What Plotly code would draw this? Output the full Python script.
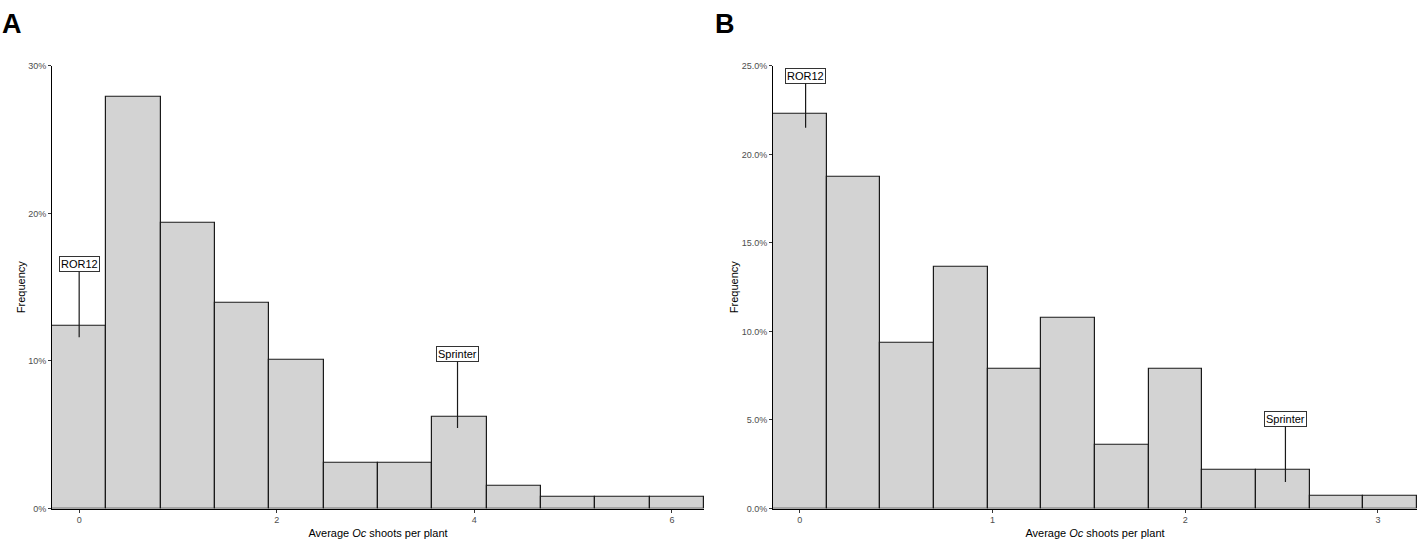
import plotly.graph_objects as go

# ---- Data ----
# Panel A
a_binwidth = 0.55
a_centers = [0.0, 0.55, 1.10, 1.65, 2.20, 2.75, 3.30, 3.85, 4.40, 4.95, 5.50, 6.05]
a_freq = [12.40, 27.91, 19.38, 13.95, 10.08, 3.10, 3.10, 6.20, 1.55, 0.78, 0.78, 0.78]
a_ticks = [0, 2, 4, 6]
a_yticks = [0, 10, 20, 30]
a_labels = ["ROR12", "Sprinter"]
a_label_x = [0.0, 3.83]
a_label_y = [11.6, 5.45]

# Panel B
b_binwidth = 0.2785
b_centers = [0.0, 0.2785, 0.557, 0.8355, 1.114, 1.3925, 1.671, 1.9495, 2.228, 2.5065, 2.785, 3.0635]
b_freq = [22.30, 18.71, 9.35, 13.67, 7.91, 10.79, 3.60, 7.91, 2.16, 2.16, 0.72, 0.72]
b_ticks = [0, 1, 2, 3]
b_yticks = [0, 5, 10, 15, 20, 25]
b_labels = ["ROR12", "Sprinter"]
b_label_x = [0.03, 2.52]
b_label_y = [21.5, 1.5]

W, H = 1418, 542
FONT = "Liberation Sans, Arial, sans-serif"

fig = go.Figure()

bar_style = dict(marker=dict(color="#D3D3D3", line=dict(color="#1A1A1A", width=1.2)),
                 showlegend=False, hoverinfo="x+y")

fig.add_trace(go.Bar(x=a_centers, y=a_freq, width=[a_binwidth] * len(a_centers),
                     xaxis="x", yaxis="y", **bar_style))
fig.add_trace(go.Bar(x=b_centers, y=b_freq, width=[b_binwidth] * len(b_centers),
                     xaxis="x2", yaxis="y2", **bar_style))

y_top = 1 - 62 / H
y_bot = 1 - 513 / H

common_x = dict(showline=True, linecolor="black", linewidth=1, ticks="outside",
                ticklen=3, tickcolor="#333333", tickwidth=1,
                tickfont=dict(size=9, color="#4D4D4D", family=FONT),
                showgrid=False, zeroline=False, fixedrange=True,
                title=dict(text="Average <i>Oc</i> shoots per plant",
                           font=dict(size=11, color="black", family=FONT), standoff=4))
common_y = dict(showline=True, linecolor="black", linewidth=1, ticks="outside",
                ticklen=3, tickcolor="#333333", tickwidth=1,
                tickfont=dict(size=9, color="#4D4D4D", family=FONT),
                showgrid=False, zeroline=False, fixedrange=True,
                title=dict(text="Frequency", font=dict(size=11, color="black", family=FONT),
                           standoff=0))

a_xmin = a_centers[0] - a_binwidth / 2
a_xmax = a_centers[-1] + a_binwidth / 2
b_xmin = b_centers[0] - b_binwidth / 2
b_xmax = b_centers[-1] + b_binwidth / 2

fig.update_layout(
    width=W, height=H,
    margin=dict(l=0, r=0, t=0, b=0),
    paper_bgcolor="white", plot_bgcolor="white",
    bargap=0,
    font=dict(family=FONT),
    xaxis=dict(domain=[52 / W, 704 / W], range=[a_xmin, a_xmax], anchor="y",
               tickvals=a_ticks, ticktext=[str(t) for t in a_ticks], **common_x),
    yaxis=dict(domain=[y_bot, y_top], range=[0, 30], anchor="x",
               tickvals=a_yticks, ticktext=[f"{t}%" for t in a_yticks], **common_y),
    xaxis2=dict(domain=[773 / W, 1417 / W], range=[b_xmin, b_xmax], anchor="y2",
                tickvals=b_ticks, ticktext=[str(t) for t in b_ticks], **common_x),
    yaxis2=dict(domain=[y_bot, y_top], range=[0, 25], anchor="x2",
                tickvals=b_yticks, ticktext=[f"{t:.1f}%" for t in b_yticks], **common_y),
)

# Labels with leader lines
label_offsets_a = [-73, -74]
label_offsets_b = [-52, -63]
for txt, x, y, ay in zip(a_labels, a_label_x, a_label_y, label_offsets_a):
    fig.add_annotation(x=x, y=y, xref="x", yref="y", text=txt, showarrow=True,
                       ax=0, ay=ay, arrowhead=0, arrowwidth=1.2, arrowcolor="#1A1A1A",
                       bgcolor="white", bordercolor="#333333", borderwidth=1, borderpad=1,
                       font=dict(size=11, color="black", family=FONT))
for txt, x, y, ay in zip(b_labels, b_label_x, b_label_y, label_offsets_b):
    fig.add_annotation(x=x, y=y, xref="x2", yref="y2", text=txt, showarrow=True,
                       ax=0, ay=ay, arrowhead=0, arrowwidth=1.2, arrowcolor="#1A1A1A",
                       bgcolor="white", bordercolor="#333333", borderwidth=1, borderpad=1,
                       font=dict(size=11, color="black", family=FONT))

# Panel letters
fig.add_annotation(x=0 / W, y=1 - 2 / H, xref="paper", yref="paper", text="<b>A</b>",
                   showarrow=False, xanchor="left", yanchor="top",
                   font=dict(size=27, color="black", family=FONT))
fig.add_annotation(x=713 / W, y=1 - 2 / H, xref="paper", yref="paper", text="<b>B</b>",
                   showarrow=False, xanchor="left", yanchor="top",
                   font=dict(size=27, color="black", family=FONT))

fig.write_html("out.html", config={"displayModeBar": False},
               post_script="document.body.style.margin='0';document.body.style.overflow='hidden';")
